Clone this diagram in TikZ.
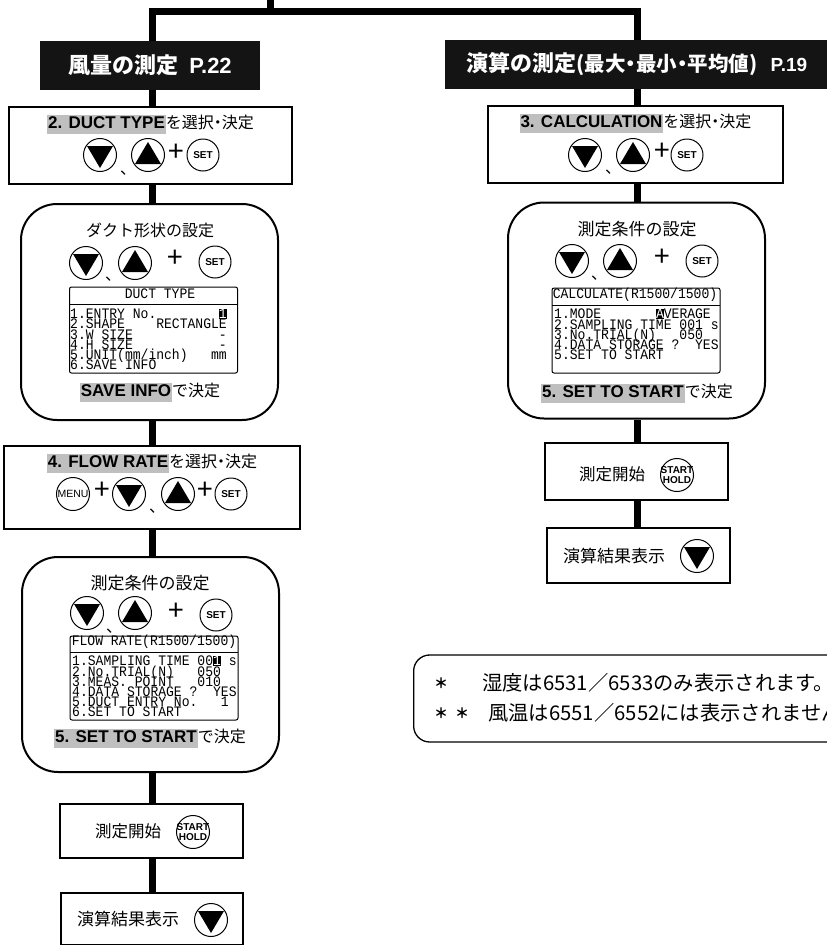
\documentclass[tikz,border=0pt]{standalone}
\usepackage{fontspec}
\setmainfont{Noto Sans CJK JP}
\setsansfont{Liberation Sans}
\newfontfamily\lcdfont[FakeStretch=0.9]{Liberation Mono}
\usetikzlibrary{calc}

\definecolor{hilitegray}{gray}{0.75}
\newcommand{\hilite}[1]{{\setlength{\fboxsep}{1pt}\colorbox{hilitegray}{\rule[-4pt]{0pt}{17pt}\sffamily\bfseries\fontsize{17}{18}\selectfont #1}}}
\newcommand{\invchar}[1]{{\setlength{\fboxsep}{0pt}\colorbox{black}{\textcolor{white}{#1}}}}
\newcommand{\lcdsize}{\lcdfont\fontsize{14.5}{10.2}\selectfont\setlength{\lineskiplimit}{-20pt}}

\tikzset{
  trunk/.style={line width=7pt},
  header/.style={fill=black!92,text=white,minimum height=49pt,inner sep=0pt,font=\fontsize{22}{24}\selectfont\bfseries},
  stepbox/.style={draw,line width=2pt,inner sep=0pt},
  roundbox/.style={draw,line width=2pt,rounded corners=36pt,minimum width=257pt,minimum height=216pt,inner sep=0pt},
  screen/.style={draw,line width=1pt,rounded corners=2pt,minimum width=168pt,inner sep=0pt},
  lcd/.style={inner sep=0pt,font=\lcdsize},
  steptext/.style={inner sep=0pt,font=\fontsize{16}{18}\selectfont},
  keybtn/.style={circle,draw,line width=1pt,minimum size=33pt,inner sep=0pt,font=\sffamily\fontsize{10.5}{9}\selectfont},
  setkey/.style={keybtn,minimum size=32pt,font=\sffamily\bfseries\fontsize{10}{9}\selectfont},
  startkey/.style={keybtn,font=\sffamily\bfseries\fontsize{10}{9}\selectfont},
  downkey/.style={keybtn,path picture={\fill ($(path picture bounding box.center)+(-13,-9)$) -- ++(26,0) -- ++(-13,22) -- cycle;}},
  upkey/.style={keybtn,path picture={\fill ($(path picture bounding box.center)+(-13,9)$) -- ++(26,0) -- ++(-13,-22) -- cycle;}},
  plussign/.style={inner sep=0pt,font=\fontsize{28}{28}\selectfont},
  ticksign/.style={inner sep=0pt,font=\fontsize{16}{16}\selectfont},
  notetext/.style={anchor=west,inner sep=0pt,font=\fontsize{20.3}{21}\selectfont},
  notemark/.style={anchor=west,inner sep=0pt,font=\fontsize{14}{21}\selectfont\bfseries},
}

\begin{document}
\begin{tikzpicture}[x={1pt},y={-1pt}]
\useasboundingbox (0,0) rectangle (827,945);
\clip (0,0) rectangle (827,945);

\coordinate (topIn) at (270,0);
\coordinate (topL) at (152,11.5);
\coordinate (topR) at (637,11.5);

\node [header,minimum width=220pt] (hdrFlow) at (150,65.5) {風量の測定\hspace{11pt}{\sffamily\fontsize{22}{24}\selectfont P.22}};
\node [header,minimum width=384pt] (hdrCalc) at (637,64.5) {演算の測定{\fontsize{20.5}{24}\selectfont (最大\kern-5pt・\kern-5pt最小\kern-5pt・\kern-5pt平均値)}\hspace{13pt}{\sffamily\fontsize{19}{24}\selectfont P.19}};

\node [stepbox,minimum width=283pt,minimum height=77pt] (ductBox) at (150.5,145.5) {};
\node [steptext] (ductText) at (150.5,124) {\hilite{2. DUCT TYPE}を選択\kern-4pt・\kern-4pt決定};
\node [downkey] (ductDown) at (100,155) {};
\node [upkey] (ductUp) at (148,155) {};
\node [plussign] (ductPlus) at (176,153) {+};
\node [setkey] (ductSet) at (203,155) {SET};
\node [ticksign] (ductTick) at (128,173) {、};

\node [roundbox] (ductRound) at (149.5,312) {};
\node [steptext] (ductTitle) at (150,230) {ダクト形状の設定};
\node [downkey] (ductRoundDown) at (86,263) {};
\node [upkey] (ductRoundUp) at (135,263) {};
\node [plussign] (ductRoundPlus) at (175,259) {+};
\node [setkey] (ductRoundSet) at (215,262) {SET};
\node [ticksign] (ductRoundTick) at (113,279) {、};
\node [screen,minimum height=86pt] (ductScreen) at (153.5,330) {};
\coordinate (ductRuleL) at (69,304);
\coordinate (ductRuleR) at (238,304);
\draw (ductRuleL) -- (ductRuleR);
\node [lcd] (ductHead) at (160,294) {DUCT~TYPE};
\node [lcd,anchor=north west,align=left] (ductLines) at (70,309) {1.ENTRY~No.~~~~~~~~\invchar{1}\\2.SHAPE~~~~RECTANGLE\\3.W~SIZE~~~~~~~~~~~-\\4.H~SIZE~~~~~~~~~~~-\\5.UNIT(mm/inch)~~~mm\\6.SAVE~INFO};
\node [steptext] (ductSave) at (150,392) {\hilite{SAVE INFO}で決定};

\node [stepbox,minimum width=296pt,minimum height=83pt] (rateBox) at (152,487) {};
\node [steptext] (rateText) at (152,463) {\hilite{4. FLOW RATE}を選択\kern-4pt・\kern-4pt決定};
\node [keybtn] (rateMenu) at (73,494) {MENU};
\node [plussign] (ratePlusA) at (102,491) {+};
\node [downkey] (rateDown) at (129,494) {};
\node [ticksign] (rateTick) at (157,511) {、};
\node [upkey] (rateUp) at (178,494) {};
\node [plussign] (ratePlusB) at (205,491) {+};
\node [setkey] (rateSet) at (231,494) {SET};

\node [roundbox,minimum height=215pt] (rateRound) at (150.5,664.5) {};
\node [steptext,font=\fontsize{17}{18}\selectfont] (rateTitle) at (150,583) {測定条件の設定};
\node [downkey] (rateRoundDown) at (87,613) {};
\node [upkey] (rateRoundUp) at (135,613) {};
\node [plussign] (rateRoundPlus) at (176,612) {+};
\node [setkey] (rateRoundSet) at (216,615) {SET};
\node [ticksign] (rateRoundTick) at (114,631) {、};
\node [screen,minimum height=84pt] (rateScreen) at (154,678) {};
\coordinate (rateRuleL) at (70,652);
\coordinate (rateRuleR) at (238,652);
\draw (rateRuleL) -- (rateRuleR);
\node [lcd] (rateHead) at (154,642) {FLOW~RATE(R1500/1500)};
\node [lcd,anchor=north west,align=left] (rateLines) at (72,656) {1.SAMPLING~TIME~00\invchar{1}~s\\2.No.TRIAL(N)~~~050\\3.MEAS.~POINT~~~010\\4.DATA~STORAGE~?~~YES\\5.DUCT~ENTRY~No.~~~1\\6.SET~TO~START};
\node [steptext] (rateStart) at (150,738) {\hilite{5. SET TO START}で決定};

\node [stepbox,minimum width=183pt,minimum height=54pt] (runBox) at (151.5,831) {};
\node [steptext,font=\fontsize{16.5}{18}\selectfont] (runText) at (128,831) {測定開始};
\node [startkey] (runKey) at (193,832) {\makebox[0pt]{\shortstack{START\\HOLD}}};

\node [stepbox,minimum width=182pt,minimum height=52pt] (resBox) at (152,919) {};
\node [steptext,font=\fontsize{17}{18}\selectfont] (resText) at (128,919) {演算結果表示};
\node [downkey] (resKey) at (211,920) {};

\node [stepbox,minimum width=295pt,minimum height=77pt] (calcBox) at (635.5,144.5) {};
\node [steptext] (calcText) at (635.5,123) {\hilite{3. CALCULATION}を選択\kern-4pt・\kern-4pt決定};
\node [downkey] (calcDown) at (585,155) {};
\node [upkey] (calcUp) at (633,155) {};
\node [plussign] (calcPlus) at (662,152) {+};
\node [setkey] (calcSet) at (687,155) {SET};
\node [ticksign] (calcTick) at (613,172) {、};

\node [roundbox] (calcRound) at (636.5,310.5) {};
\node [steptext,font=\fontsize{17}{18}\selectfont] (calcTitle) at (637,229) {測定条件の設定};
\node [downkey] (calcRoundDown) at (572,261) {};
\node [upkey] (calcRoundUp) at (620,261) {};
\node [plussign] (calcRoundPlus) at (662,258) {+};
\node [setkey] (calcRoundSet) at (702,261) {SET};
\node [ticksign] (calcRoundTick) at (599,278) {、};
\node [screen,minimum height=85pt] (calcScreen) at (636,330.5) {};
\coordinate (calcRuleL) at (552,305);
\coordinate (calcRuleR) at (720,305);
\draw (calcRuleL) -- (calcRuleR);
\node [lcd] (calcHead) at (635,295) {CALCULATE(R1500/1500)};
\node [lcd,anchor=north west,align=left] (calcLines) at (554,309) {1.MODE~~~~~~~\invchar{A}VERAGE\\2.SAMPLING~TIME~001~s\\3.No.TRIAL(N)~~~050\\4.DATA~STORAGE~?~~YES\\5.SET~TO~START};
\node [steptext] (calcStart) at (637,393) {\hilite{5. SET TO START}で決定};

\node [stepbox,minimum width=183pt,minimum height=57pt] (calcRunBox) at (636.5,471.5) {};
\node [steptext,font=\fontsize{16.5}{18}\selectfont] (calcRunText) at (612,474) {測定開始};
\node [startkey] (calcRunKey) at (677,475) {\makebox[0pt]{\shortstack{START\\HOLD}}};

\node [stepbox,minimum width=183pt,minimum height=55pt] (calcResBox) at (638.5,555.5) {};
\node [steptext,font=\fontsize{17}{18}\selectfont] (calcResText) at (614,556) {演算結果表示};
\node [downkey] (calcResKey) at (697,556) {};

\node [draw,line width=1.3pt,rounded corners=16pt,minimum width=500pt,minimum height=87pt,anchor=west,inner sep=0pt] (noteBox) at (413,698.5) {};
\node [notemark] (noteMarkA) at (434,683) {＊};
\node [notetext] (noteA) at (482,683) {湿度は6531／6533のみ表示されます。};
\node [notemark] (noteMarkB) at (434,713) {＊};
\node [notemark] (noteMarkC) at (455,713) {＊};
\node [notetext] (noteB) at (488,713) {風温は6551／6552には表示されません};

\draw [trunk] (topIn) -- (topIn |- topL);
\draw [trunk] (hdrFlow.north -| topL) -- (topL) -- (topR) -- (hdrCalc.north -| topR);
\draw [trunk] (hdrFlow.south -| topL) -- (ductBox.north -| topL);
\draw [trunk] (ductBox.south -| topL) -- (ductRound.north -| topL);
\draw [trunk] (ductRound.south -| topL) -- (rateBox.north -| topL);
\draw [trunk] (rateBox.south -| topL) -- (rateRound.north -| topL);
\draw [trunk] (rateRound.south -| topL) -- (runBox.north -| topL);
\draw [trunk] (runBox.south -| topL) -- (resBox.north -| topL);
\draw [trunk] (hdrCalc.south -| topR) -- (calcBox.north -| topR);
\draw [trunk] (calcBox.south -| topR) -- (calcRound.north -| topR);
\draw [trunk] (calcRound.south -| topR) -- (calcRunBox.north -| topR);
\draw [trunk] (calcRunBox.south -| topR) -- (calcResBox.north -| topR);

\end{tikzpicture}
\end{document}
